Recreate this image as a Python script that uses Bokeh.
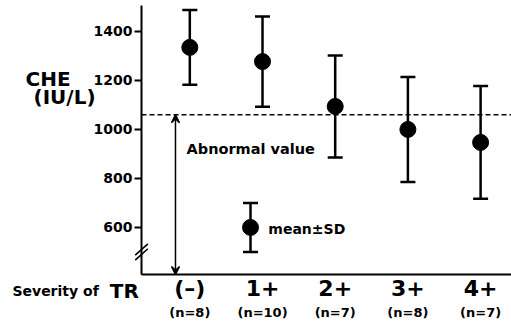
import math
from bokeh.plotting import figure
from bokeh.models import (ColumnDataSource, Whisker, TeeHead, Arrow, VeeHead,
                          Label, FixedTicker, LinearAxis)
from bokeh.embed import file_html
from bokeh.resources import INLINE

# ---- data ----
categories = ["(–)", "1+", "2+", "3+", "4+"]
n_counts = [8, 10, 7, 8, 7]
means = [1335, 1277, 1094, 1000, 947]
sds = [153, 184, 208, 214, 230]
y_ticks = [600, 800, 1000, 1200, 1400]
abnormal_value = 1060
legend_mean = [600]
legend_sd = [100]

# axis extents (data units)
X_AXIS_START, X_AXIS_END = -0.664, 4.425
Y_AXIS_START, Y_AXIS_END = 408, 1505
BREAK_Y = 500

xs = list(range(len(categories)))
src = ColumnDataSource(dict(
    x=xs, mean=means,
    upper=[m + s for m, s in zip(means, sds)],
    lower=[m - s for m, s in zip(means, sds)],
))

FONT = "DejaVu Sans"

p = figure(width=511, height=324, output_backend="svg", toolbar_location=None,
           x_range=(-2.604, 4.425), y_range=(203.9, 1526.4),
           x_axis_type=None, y_axis_type=None,
           min_border_left=0, min_border_right=0, min_border_top=0,
           min_border_bottom=0, title=None)
p.outline_line_color = None
p.grid.visible = False

# y axis (fixed inside the frame)
yax = LinearAxis(fixed_location=X_AXIS_START, bounds=(Y_AXIS_START, Y_AXIS_END),
                 ticker=FixedTicker(ticks=y_ticks))
yax.axis_line_width = 2
yax.axis_line_color = "black"
yax.major_tick_line_width = 2
yax.major_tick_line_color = "black"
yax.major_tick_out = 7
yax.major_tick_in = 0
yax.minor_tick_line_color = None
yax.major_label_text_font = FONT
yax.major_label_text_font_style = "bold"
yax.major_label_text_font_size = "14px"
yax.major_label_text_color = "black"
yax.major_label_standoff = 2
p.add_layout(yax, "left")

# x axis (fixed inside the frame)
xax = LinearAxis(fixed_location=Y_AXIS_START, bounds=(X_AXIS_START, X_AXIS_END),
                 ticker=FixedTicker(ticks=xs),
                 major_label_overrides={i: c for i, c in zip(xs, categories)})
xax.axis_line_width = 2
xax.axis_line_color = "black"
xax.major_tick_line_color = None
xax.minor_tick_line_color = None
xax.major_label_text_font = FONT
xax.major_label_text_font_style = "bold"
xax.major_label_text_font_size = "22px"
xax.major_label_text_color = "black"
xax.major_label_standoff = -4
p.add_layout(xax, "below")

# dashed abnormal line
p.segment(x0=[X_AXIS_START], y0=[abnormal_value], x1=[X_AXIS_END], y1=[abnormal_value],
          line_color="black", line_width=1.5, line_dash="5 3")

# arrow
p.add_layout(Arrow(x_start=-0.197, y_start=abnormal_value, x_end=-0.197, y_end=Y_AXIS_START,
                   line_width=1.5,
                   start=VeeHead(size=8, fill_color="black", line_width=1.5),
                   end=VeeHead(size=8, fill_color="black", line_width=1.5)))

# axis break marks
p.scatter(x=[X_AXIS_START, X_AXIS_START], y=[BREAK_Y + 10, BREAK_Y - 10], marker="dash",
          size=17, angle=math.radians(42), line_color="black", line_width=1.6)

# error bars
p.add_layout(Whisker(base="x", upper="upper", lower="lower", source=src,
                     line_width=2.5,
                     upper_head=TeeHead(size=15, line_width=2.5),
                     lower_head=TeeHead(size=15, line_width=2.5)))
p.scatter("x", "mean", source=src, size=16, color="black")

# legend marker
lsrc = ColumnDataSource(dict(x=[0.835], mean=legend_mean,
                             upper=[legend_mean[0] + legend_sd[0]],
                             lower=[legend_mean[0] - legend_sd[0]]))
p.add_layout(Whisker(base="x", upper="upper", lower="lower", source=lsrc,
                     line_width=2.5,
                     upper_head=TeeHead(size=15, line_width=2.5),
                     lower_head=TeeHead(size=15, line_width=2.5)))
p.scatter("x", "mean", source=lsrc, size=16, color="black")

def lab(x, y, text, size, align="left", baseline="alphabetic"):
    p.add_layout(Label(x=x, y=y, text=text, text_font=FONT, text_font_style="bold",
                       text_font_size=size, text_align=align, text_baseline=baseline,
                       text_color="black"))

lab(1.08, 595, "mean±SD", "14px")
lab(-0.045, 922, "Abnormal value", "14.5px")
lab(-2.26, 1204, "CHE", "20px")
lab(-2.15, 1131, "(IU/L)", "20px")
lab(-2.44, 342, "Severity of", "14px")
lab(-1.10, 339, "TR", "20px")
for x, n in zip(xs, n_counts):
    lab(x, 252, f"(n={n})", "13px", align="center")

open("out.html", "w").write(file_html(p, INLINE))
